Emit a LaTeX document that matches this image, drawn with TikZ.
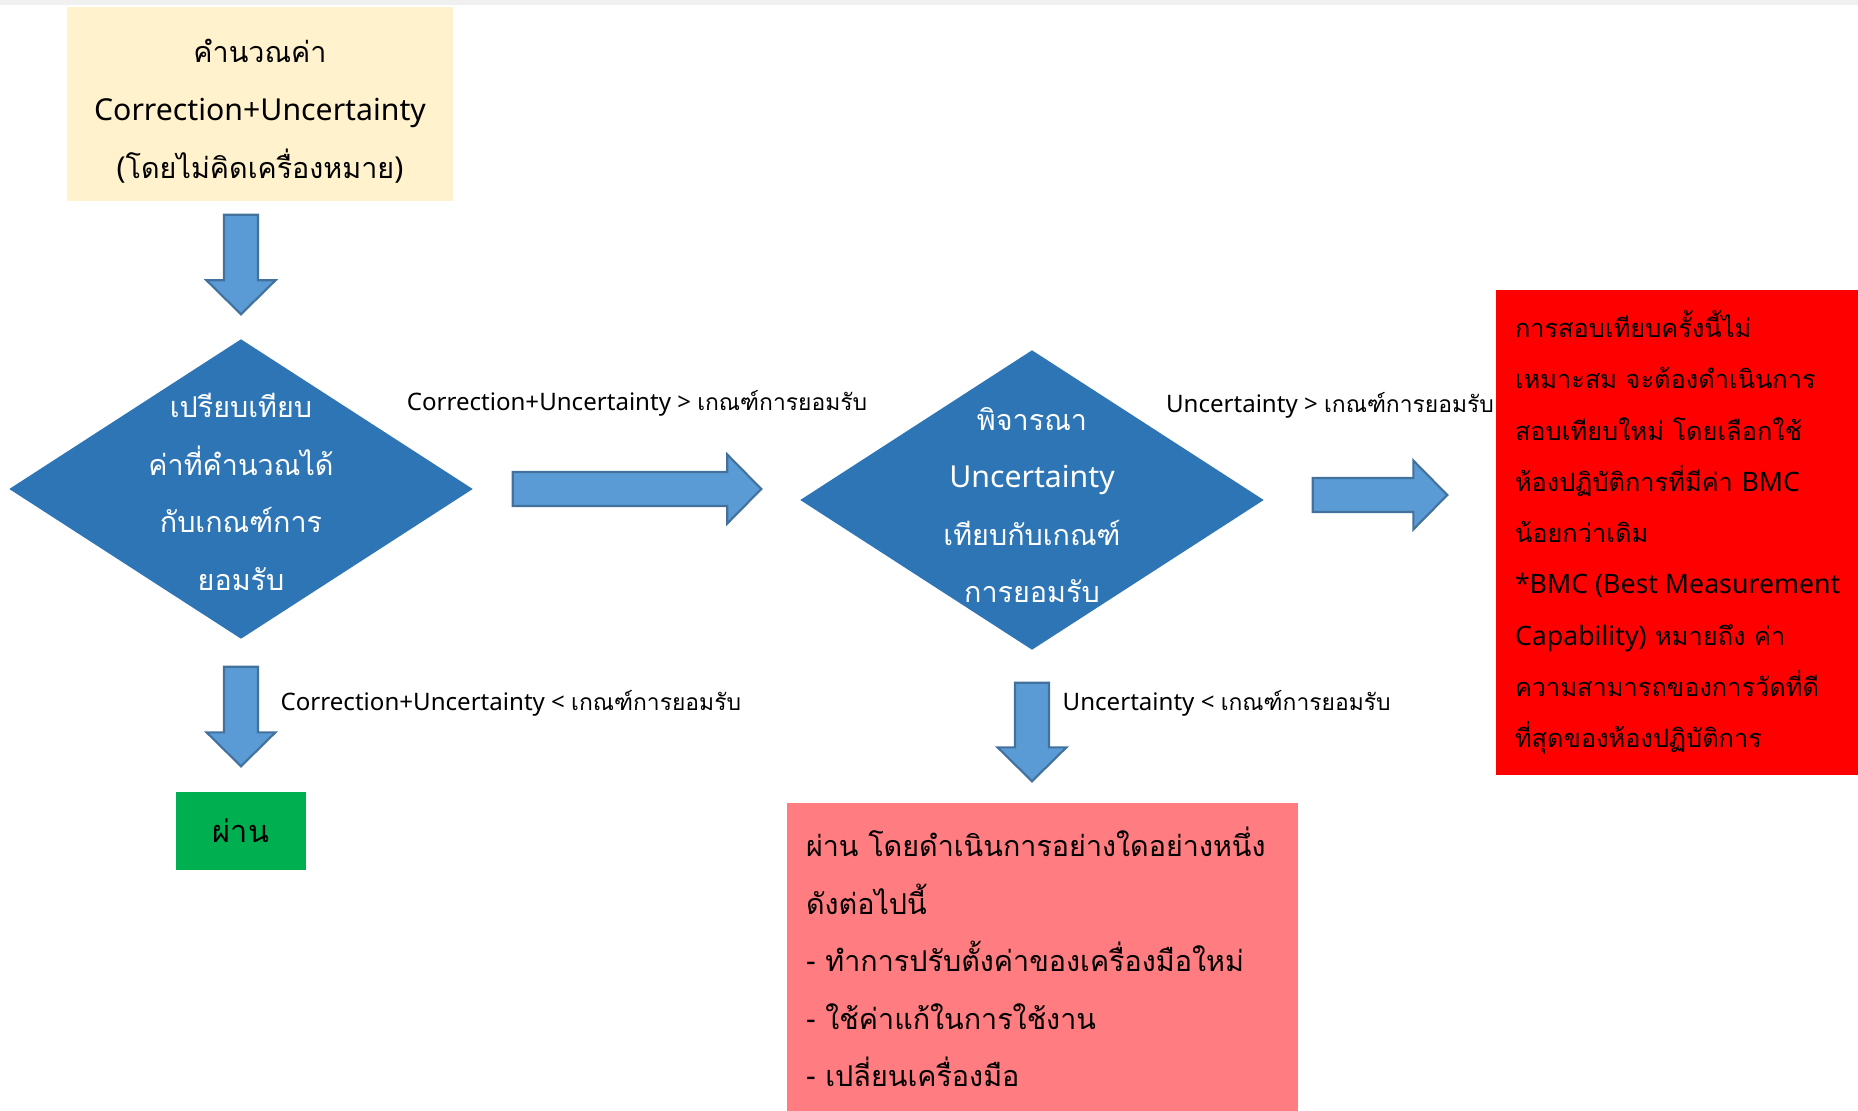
\documentclass[tikz,border=0pt]{standalone}
\usepackage{fontspec}
\setmainfont{Noto Sans}
\newfontfamily\thai[Script=Thai,Scale=0.95]{Loma}
\newfontfamily\enfont{Noto Sans}
\newcommand{\en}[1]{{\enfont #1}}
\newcommand{\bigtxt}{\fontsize{8.6pt}{16.4pt}\selectfont}
\newcommand{\midtxt}{\fontsize{7.6pt}{14.6pt}\selectfont}
\newcommand{\smalltxt}{\fontsize{6.85pt}{9pt}\selectfont}
\usepackage{tikz}
\usetikzlibrary{shapes.geometric,calc}

\definecolor{topbar}{HTML}{F0F0F0}
\definecolor{calcfill}{HTML}{FFF2CC}
\definecolor{decfill}{HTML}{2E75B6}
\definecolor{arrowfill}{HTML}{5B9BD5}
\definecolor{arrowline}{HTML}{41719C}
\definecolor{passfill}{HTML}{00B050}
\definecolor{fixfill}{HTML}{FF7C80}
\definecolor{failfill}{HTML}{FF0000}

\begin{document}
\begin{tikzpicture}[
    calcbox/.style={rectangle, fill=calcfill, minimum width=3.86cm, minimum height=1.94cm, inner sep=0pt, align=center, font=\bigtxt\thai},
    decision/.style={diamond, fill=decfill, minimum width=4.64cm, minimum height=3.00cm, inner sep=0pt},
    dtext/.style={text=white, align=center, inner sep=0pt, font=\bigtxt\thai},
    passbox/.style={rectangle, fill=passfill, minimum width=1.30cm, minimum height=0.78cm, inner sep=0pt, font=\fontsize{9.2pt}{11pt}\selectfont\thai},
    fixbox/.style={rectangle, fill=fixfill, minimum width=5.11cm, minimum height=3.08cm, inner sep=0pt},
    failbox/.style={rectangle, fill=failfill, minimum width=3.62cm, minimum height=4.85cm, inner sep=0pt},
    boxtext/.style={anchor=west, align=left, inner xsep=0.19cm, inner ysep=0pt},
    cond/.style={inner sep=0pt, font=\smalltxt},
    bigarrow/.style 2 args={fill=arrowfill, draw=arrowline, line width=0.6pt, line join=miter,
      to path={
        ($(\tikztostart)!#1!(\tikztotarget)$) coordinate (ba-s)
        ($(\tikztotarget)!#2!(\tikztostart)$) coordinate (ba-t)
        ($(ba-t)!0.34cm!(ba-s)$) coordinate (ba-h)
        ($(ba-s)!0.17cm!90:(ba-t)$) -- ($(ba-h)!0.17cm!90:(ba-t)$)
          -- ($(ba-h)!0.345cm!90:(ba-t)$) -- (ba-t)
          -- ($(ba-h)!0.345cm!-90:(ba-t)$) -- ($(ba-h)!0.17cm!-90:(ba-t)$)
          -- ($(ba-s)!0.17cm!-90:(ba-t)$) -- cycle}},
]
    \useasboundingbox (0,0) rectangle (18.58,-11.11);
    \fill[topbar] (0,0) rectangle (18.58,-0.05);

    % start box
    \node[calcbox] (calc) at (2.60,-1.04) {\rule{0pt}{0.38cm}คำนวณค่า\\\en{Correction+Uncertainty}\\\en{(}โดยไม่คิดเครื่องหมาย\en{)}};

    % decisions
    \node[decision] (dia1) at (2.41,-4.89) {};
    \node[dtext, yshift=-0.03cm] (dia1t) at (dia1) {เปรียบเทียบ\\ค่าที่คำนวณได้\\กับเกณฑ์การ\\ยอมรับ};
    \node[decision] (dia2) at (10.32,-5.00) {};
    \node[dtext, yshift=-0.05cm] (dia2t) at (dia2) {พิจารณา\\\en{Uncertainty}\\เทียบกับเกณฑ์\\การยอมรับ};

    % results
    \node[passbox] (pass) at (2.41,-8.31) {ผ่าน};
    \node[fixbox] (fix) at (10.425,-9.57) {};
    \node[boxtext, font=\bigtxt\thai] (fixt) at (fix.west) {ผ่าน โดยดำเนินการอย่างใดอย่างหนึ่ง\\ดังต่อไปนี้\\\en{-} ทำการปรับตั้งค่าของเครื่องมือใหม่\\\en{-} ใช้ค่าแก้ในการใช้งาน\\\en{-} เปลี่ยนเครื่องมือ};
    \node[failbox] (fail) at (16.77,-5.325) {};
    \node[boxtext, font=\midtxt\thai] (failt) at (fail.west) {การสอบเทียบครั้งนี้ไม่\\เหมาะสม จะต้องดำเนินการ\\สอบเทียบใหม่ โดยเลือกใช้\\ห้องปฏิบัติการที่มีค่า \en{BMC}\\น้อยกว่าเดิม\\\en{*BMC (Best Measurement}\\\en{Capability)} หมายถึง ค่า\\ความสามารถของการวัดที่ดี\\ที่สุดของห้องปฏิบัติการ};

    % arrows
    \draw[bigarrow={0.13cm}{0.24cm}] (calc.south -| dia1.north) to (dia1.north);
    \draw[bigarrow={0.39cm}{0.38cm}] (dia1.east) to (dia1.east -| dia2.west);
    \draw[bigarrow={0.48cm}{0.48cm}] ([yshift=0.05cm]dia2.east) to ([yshift=0.05cm]dia2.east -| fail.west);
    \draw[bigarrow={0.27cm}{0.25cm}] (dia1.south) to (pass.north);
    \draw[bigarrow={0.32cm}{0.21cm}] (dia2.south) to (dia2.south |- fix.north);

    % conditions
    \node[cond] (c1) at (6.37,-4.03) {Correction+Uncertainty > {\thai เกณฑ์การยอมรับ}};
    \node[cond] (c2) at (13.30,-4.05) {Uncertainty > {\thai เกณฑ์การยอมรับ}};
    \node[cond, anchor=west] (c3) at (2.80,-7.03) {Correction+Uncertainty < {\thai เกณฑ์การยอมรับ}};
    \node[cond, anchor=west] (c4) at (10.62,-7.03) {Uncertainty < {\thai เกณฑ์การยอมรับ}};
\end{tikzpicture}
\end{document}
